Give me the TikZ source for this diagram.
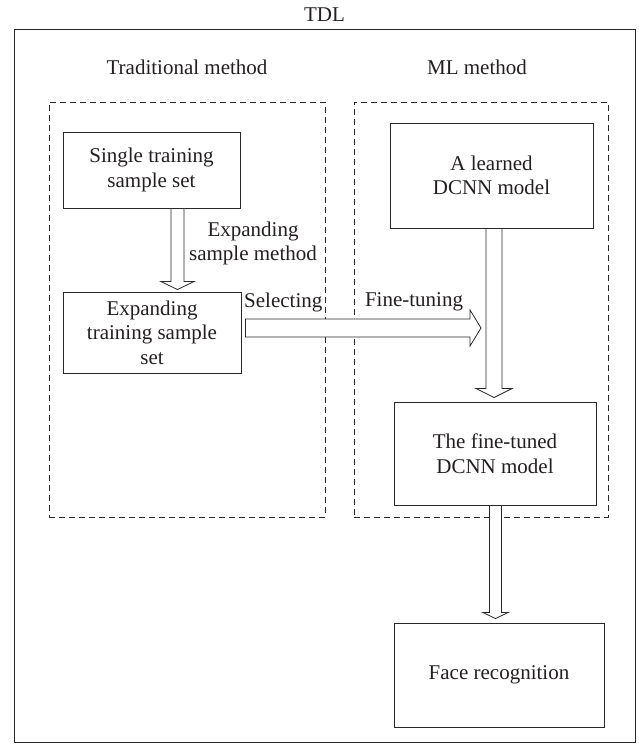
\documentclass[tikz,border=0pt]{standalone}
\usepackage{fontspec}
\setmainfont{Liberation Serif}
\usetikzlibrary{calc}
\definecolor{ink}{RGB}{35,31,32}
\definecolor{linec}{RGB}{40,40,40}
\newcommand\varrow[5]{%
  \draw[blockline] let \p1=#1, \p2=#2 in
    (\x2-#3pt,\y1) -- (\x2-#3pt,\y2+#5pt) -- (\x2-#4pt,\y2+#5pt) -- (\x2,\y2)
    -- (\x2+#4pt,\y2+#5pt) -- (\x2+#3pt,\y2+#5pt) -- (\x2+#3pt,\y1) -- cycle;}
\newcommand\harrow[5]{%
  \draw[blockline] let \p1=#1, \p2=#2 in
    (\x1,\y2+#3pt) -- (\x2-#5pt,\y2+#3pt) -- (\x2-#5pt,\y2+#4pt) -- (\x2,\y2)
    -- (\x2-#5pt,\y2-#4pt) -- (\x2-#5pt,\y2-#3pt) -- (\x1,\y2-#3pt) -- cycle;}
\begin{document}
\begin{tikzpicture}[x=1pt,y=-1pt,
  every node/.style={font=\fontsize{21}{24.5}\selectfont, text=ink},
  solidbox/.style={draw=linec, line width=0.9pt, inner sep=0pt, align=center},
  dashbox/.style={draw=linec, line width=0.8pt, dash pattern=on 6pt off 4pt, inner sep=0pt},
  blockline/.style={draw=linec, line width=0.8pt, fill=white},
  lbl/.style={inner sep=0pt, align=center}]
\useasboundingbox (0,0) rectangle (638,744);
% outer frame
\node[draw=linec, line width=1pt, inner sep=0pt, minimum width=621pt, minimum height=713pt] (outer) at (324.5,385.5) {};
\node[lbl, anchor=base] (tdl) at (324.5,21) {TDL};
\node[lbl, anchor=base] (trad) at (187,74) {Traditional method};
\node[lbl, anchor=base] (ml) at (477,74) {ML method};
% dashed groups
\node[dashbox, minimum width=276pt, minimum height=415pt] (gleft) at (187,309.5) {};
\node[dashbox, minimum width=254pt, minimum height=415pt] (gright) at (481,309.5) {};
% boxes
\node[solidbox, minimum width=177pt, minimum height=76pt] (single) at (151.5,170) {Single training\\sample set};
\node[solidbox, minimum width=178pt, minimum height=81pt] (expand) at (152,332.5) {Expanding\\training sample\\set};
\node[solidbox, minimum width=203pt, minimum height=105pt] (learned) at (491.5,175.5) {A learned\\DCNN model};
\node[solidbox, minimum width=202pt, minimum height=103pt] (tuned) at (495,453.5) {The fine-tuned\\DCNN model};
\node[solidbox, minimum width=210pt, minimum height=104pt] (face) at (499,675) {Face recognition};
% arrows
\varrow{($(single.south)+(26,0)$)}{($(expand.north)+(25.5,-2)$)}{6.5}{16.5}{8}
\coordinate (ftip) at (481,328);
\harrow{($(expand.east)+(4,0)$)}{(ftip)}{9}{18}{11}
\varrow{($(learned.south)+(2.5,0)$)}{($(tuned.north)+(-1,-4)$)}{8}{18}{9}
\varrow{(tuned.south)}{($(face.north)+(-3.5,-4)$)}{6}{12.5}{6}
% labels
\node[lbl] (expmethod) at (253,243.5) {Expanding\\sample method};
\node[lbl, anchor=west] (sel) at (244,302) {Selecting};
\node[lbl] (fine) at (414,302) {Fine-tuning};
\end{tikzpicture}
\end{document}
